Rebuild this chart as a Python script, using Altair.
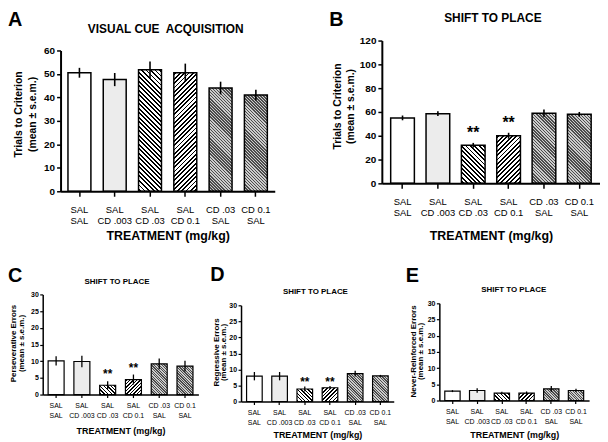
import altair as alt
import pandas as pd

FONT = "Liberation Sans"

# ---------------- data ----------------
line1 = ["SAL", "SAL", "SAL", "SAL", "CD .03", "CD 0.1"]
line2 = ["SAL", "CD .003", "CD .03", "CD 0.1", "SAL", "SAL"]
no_sig = ["", "", "", "", "", ""]
sig_marks = ["", "", "**", "**", "", ""]

a_mean = [50.5, 47.6, 51.8, 50.5, 44.0, 41.0]
a_sem = [2.1, 2.8, 3.5, 3.9, 2.7, 2.3]
b_mean = [55.0, 58.5, 32.0, 40.0, 59.0, 58.0]
b_sem = [2.0, 2.0, 2.0, 2.5, 3.0, 2.0]
c_mean = [10.1, 9.9, 2.8, 4.5, 9.2, 8.5]
c_sem = [1.4, 1.7, 1.2, 1.5, 1.6, 1.6]
d_mean = [7.9, 7.9, 3.9, 4.3, 8.7, 8.0]
d_sem = [1.3, 1.3, 0.8, 0.5, 0.9, 0.3]
e_mean = [2.9, 3.1, 2.3, 2.3, 3.6, 3.1]
e_sem = [0.3, 0.7, 0.4, 0.5, 0.9, 0.5]

cats = [f"{a}|{b}" for a, b in zip(line1, line2)]


def stripe_fill(w, h, period, frac, c_line, c_bg, direction):
    k = (w + h) / (w * w + h * h)
    if direction == "back":
        x1, y1, x2, y2 = 0, 1, k * w, 1 - k * h
    else:
        x1, y1, x2, y2 = 0, 0, k * w, k * h
    L = (w + h) / 2 ** 0.5
    n = max(1, int(round(L / period)))
    stops = [(0.0, c_bg)]
    for i in range(n):
        a = (i + 0.5 - frac / 2) / n
        b = (i + 0.5 + frac / 2) / n
        stops += [(a, c_bg), (a, c_line), (b, c_line), (b, c_bg)]
    stops.append((1.0, c_bg))
    return alt.LinearGradient(
        gradient="linear",
        stops=[alt.GradientStop(offset=o, color=c) for o, c in stops],
        x1=x1, y1=y1, x2=x2, y2=y2,
    )


def fill_for(i, bw, h, g):
    if i == 0:
        return "white"
    if i == 1:
        return "#ececec"
    if i == 2:
        return stripe_fill(bw, h, g["per"], 0.42, "black", "white", "back")
    if i == 3:
        return stripe_fill(bw, h, g["per"], 0.42, "black", "white", "fwd")
    return stripe_fill(bw, h, g["per2"], 0.5, "#4c4c4c", "#cccccc", "back")


def make_panel(mean, sem, sig, g):
    df = pd.DataFrame({
        "cat": cats,
        "idx": list(range(6)),
        "mean": mean,
        "lo": [m - s for m, s in zip(mean, sem)],
        "hi": [m + s for m, s in zip(mean, sem)],
        "sig": sig,
    })
    xr = g["xrange"]
    yr = g["yrange"]
    pi, po = g["pi"], g["po"]
    step = (xr[1] - xr[0]) / (6 - pi + 2 * po)
    bw = step * (1 - pi)
    ph = yr[0] - yr[1]

    xaxis = alt.Axis(
        title=g["xtitle"], labelExpr="split(datum.label, '|')", labelAngle=0,
        labelFont=FONT, labelFontSize=g["xlab_fs"], labelFontWeight="normal",
        labelLineHeight=g["xlab_lh"], labelPadding=g["xlab_pad"], labelColor="black",
        labelOverlap=False, tickSize=g["xtick"], tickWidth=g["tw"], tickColor="black",
        domainColor="black", domainWidth=g["dw"], titleFont=FONT,
        titleFontSize=g["xtitle_fs"], titleFontWeight="bold", titleColor="black",
        titleY=g["xtitle_y"], titleBaseline="alphabetic", grid=False, zindex=2,
    )
    yaxis = alt.Axis(
        values=g["yvalues"], title=g["ytitle"], titleX=g["ytitle_x"], titleY=g["ytitle_y"],
        titleAngle=270, titleAlign="center", titleBaseline="middle",
        titleLineHeight=g["ytitle_lh"], titleFont=FONT, titleFontSize=g["ytitle_fs"],
        titleFontWeight="bold", titleColor="black", labelFont=FONT,
        labelFontSize=g["ylab_fs"], labelFontWeight="bold", labelColor="black",
        labelPadding=g["ylab_pad"], tickSize=g["ytick"], tickWidth=g["tw"],
        tickColor="black", domainColor="black", domainWidth=g["dw"], grid=False,
        offset=g["yoff"], zindex=2,
    )
    x_enc = alt.X("cat:N", scale=alt.Scale(domain=cats, range=xr, paddingInner=pi,
                                           paddingOuter=po), axis=xaxis)
    yscale = alt.Scale(domain=[0, g["ymax"]], range=yr, nice=False)

    layers = []
    for i in range(6):
        h = mean[i] / g["ymax"] * ph
        layers.append(
            alt.Chart(df).transform_filter(alt.datum.idx == i)
            .mark_bar(fill=fill_for(i, bw, h, g), stroke="black", strokeWidth=g["sw"])
            .encode(x=x_enc, y=alt.Y("mean:Q", scale=yscale, axis=yaxis))
        )
    layers.append(
        alt.Chart(df).mark_rule(color="black", strokeWidth=g["ew"])
        .encode(x=x_enc, y=alt.Y("lo:Q", scale=yscale, axis=yaxis), y2="hi:Q")
    )
    layers.append(
        alt.Chart(df).mark_text(font=FONT, fontSize=g["star_fs"], fontWeight="bold",
                                baseline="alphabetic", dy=g["star_dy"], color="black")
        .encode(x=x_enc, y=alt.Y("hi:Q", scale=yscale, axis=yaxis), text="sig:N")
    )
    tdf = pd.DataFrame({"t": [g["letter"]]})
    layers.append(
        alt.Chart(tdf).mark_text(font=FONT, fontSize=20, fontWeight="bold", align="left",
                                 baseline="alphabetic", color="black")
        .encode(x=alt.value(g["letter_x"]), y=alt.value(g["letter_y"]), text="t:N")
    )
    hdf = pd.DataFrame({"t": [g["title"]]})
    layers.append(
        alt.Chart(hdf).mark_text(font=FONT, fontSize=g["title_fs"], fontWeight="bold",
                                 align="center", baseline="alphabetic", color="black")
        .encode(x=alt.value(g["title_x"]), y=alt.value(g["title_y"]), text="t:N")
    )
    return alt.layer(*layers).properties(width=g["width"], height=g["height"])


top_common = dict(xlab_fs=9.5, xlab_lh=11, xlab_pad=8, xtick=5, tw=1.5, dw=2,
                  xtitle="TREATMENT (mg/kg)", xtitle_fs=12.5, ytitle_lh=13.5,
                  ytitle_fs=10.5, ylab_fs=10, ylab_pad=2, ytick=4, sw=1.5, ew=1.6,
                  per=3.2, per2=2.2, title_fs=12,
                  ytitle=["Trials to Criterion", "(mean \u00b1 s.e.m.)"])
bot_common = dict(xlab_fs=7, xlab_lh=10, xlab_pad=4, xtick=3, tw=1.2, dw=1.5,
                  xtitle="TREATMENT (mg/kg)", xtitle_fs=9, ytitle_lh=7.5,
                  ytitle_fs=8, ylab_fs=7, ylab_pad=1.5, ytick=3, sw=1.2, ew=1.3,
                  per=2.6, per2=1.9, title_fs=8, ymax=30,
                  yvalues=[0, 5, 10, 15, 20, 25, 30], star_fs=12)

gA = dict(top_common, width=234, height=152, xrange=[18, 234], yrange=[152, 10],
          pi=0.35, po=0.21, ymax=60, yvalues=[0, 10, 20, 30, 40, 50, 60], yoff=-18,
          letter="A", letter_x=-35, letter_y=-15, title="VISUAL CUE\u00a0 ACQUISITION",
          title_x=124, title_y=-8, ytitle_x=-42, ytitle_y=74, xtitle_y=49,
          star_fs=16, star_dy=-5)
gB = dict(top_common, width=220, height=144, xrange=[0, 220], yrange=[144, 0],
          pi=0.33, po=0.25, ymax=120, yvalues=[0, 20, 40, 60, 80, 100, 120], yoff=0,
          letter="B", letter_x=-53, letter_y=-15, title="SHIFT TO PLACE",
          title_x=112, title_y=-19, ytitle_x=-45, ytitle_y=66, xtitle_y=57,
          star_fs=16, star_dy=-5)
gC = dict(bot_common, width=157, height=101, xrange=[0, 157], yrange=[101, 0],
          pi=0.38, po=0.21, yoff=0, letter="C", letter_x=-35, letter_y=-13,
          title="SHIFT TO PLACE", title_x=75, title_y=-11,
          ytitle=["Perseverative Errors", "(mean \u00b1 s.e.m.)"],
          ytitle_x=-29, ytitle_y=49, xtitle_y=39.5, star_dy=-3)
gD = dict(bot_common, width=154, height=108, xrange=[0, 154], yrange=[108, 11],
          pi=0.38, po=0.22, yoff=0, letter="D", letter_x=-31, letter_y=-14,
          title="SHIFT TO PLACE", title_x=75, title_y=0,
          ytitle=["Regressive Errors", "(mean \u00b1 s.e.m.)"],
          ytitle_x=-25, ytitle_y=58, xtitle_y=36.5, star_dy=0)
gE = dict(bot_common, width=151, height=107, xrange=[0, 151], yrange=[107, 9],
          pi=0.38, po=0.22, yoff=0, letter="E", letter_x=-34, letter_y=-13,
          title="SHIFT TO PLACE", title_x=75, title_y=-2,
          ytitle=["Never-Reinforced Errors", "(mean \u00b1 s.e.m.)"],
          ytitle_x=-26, ytitle_y=57, xtitle_y=37.5, star_dy=0)

pA = make_panel(a_mean, a_sem, no_sig, gA)
pB = make_panel(b_mean, b_sem, sig_marks, gB)
pC = make_panel(c_mean, c_sem, sig_marks, gC)
pD = make_panel(d_mean, d_sem, sig_marks, gD)
pE = make_panel(e_mean, e_sem, no_sig, gE)

top = alt.hconcat(pA, pB, spacing=55)
bottom = alt.hconcat(pC, pD, pE, spacing=12)
chart = (
    alt.vconcat(top, bottom, spacing=22)
    .properties(padding=0, background="white")
    .configure_view(stroke=None)
)

chart.save("out.html", embed_options={"renderer": "svg", "actions": False})
